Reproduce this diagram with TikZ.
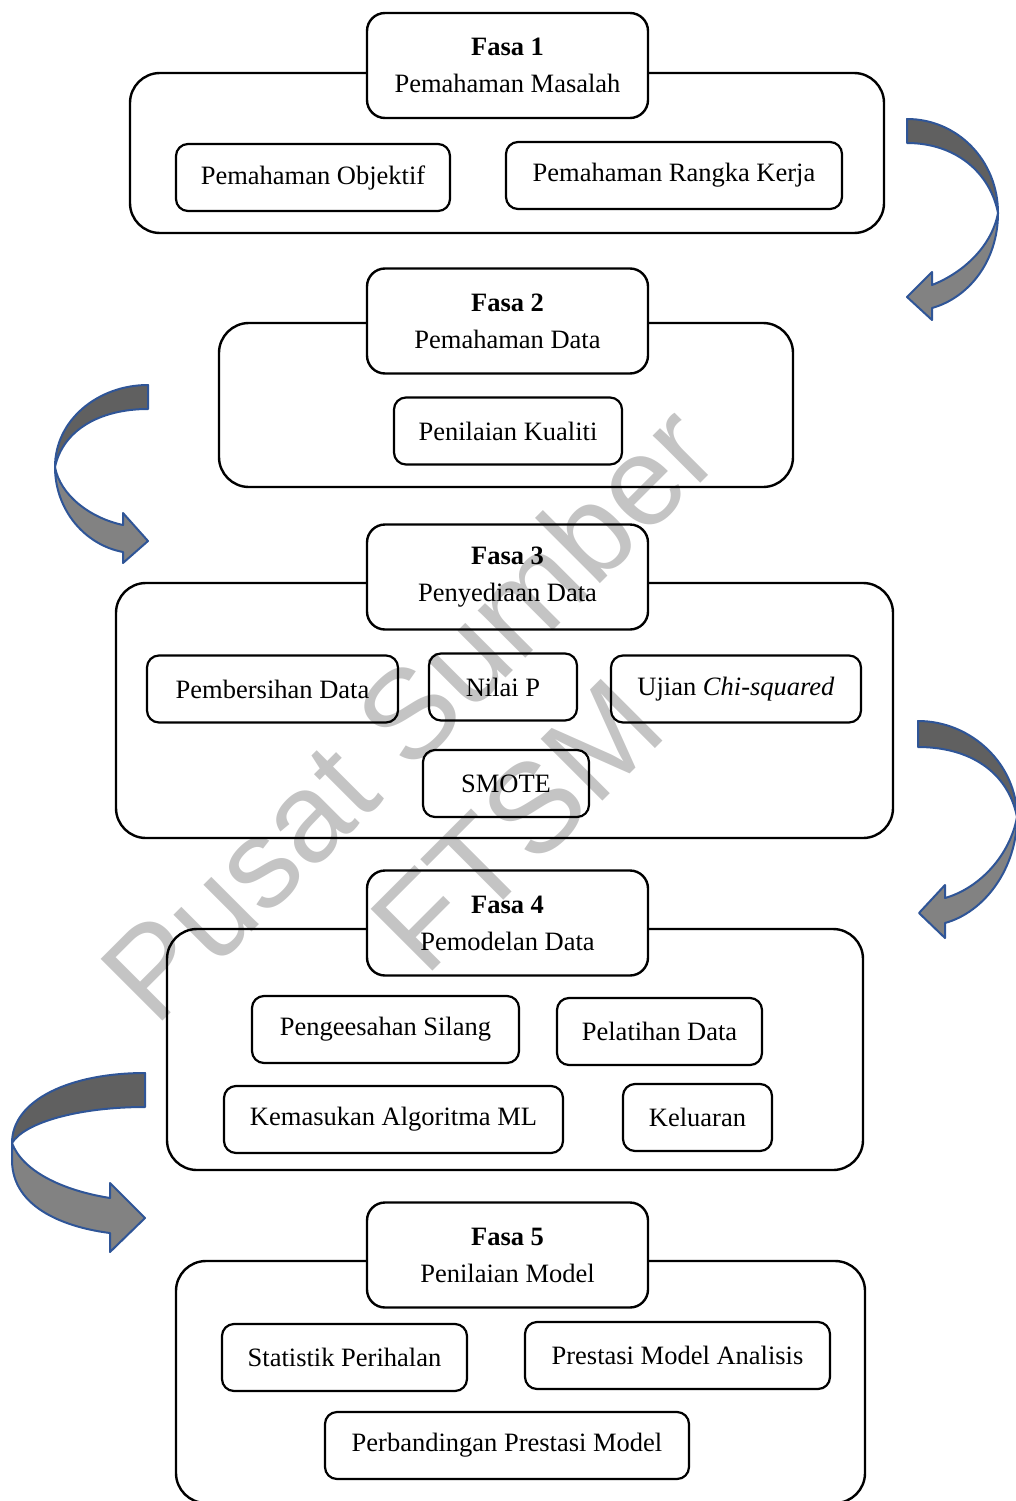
\documentclass[tikz,border=0pt]{standalone}
\usepackage{fontspec}
\setmainfont{Liberation Serif}
\newfontfamily\markfont{Liberation Sans}

\definecolor{arrowblue}{HTML}{2F5597}
\definecolor{arrowdark}{HTML}{606060}
\definecolor{arrowlight}{HTML}{828282}

\tikzset{
  outerbox/.style={draw, line width=2.4pt, rounded corners=30pt, inner sep=0pt},
  headbox/.style={draw, fill=white, line width=2.4pt, rounded corners=18pt,
    inner sep=0pt, minimum width=281pt, minimum height=105pt, align=center},
  itembox/.style={draw, line width=2.2pt, rounded corners=12pt, inner sep=0pt,
    minimum height=67pt},
  bandtop/.style={fill=arrowdark, draw=arrowblue, line width=2pt, line join=round},
  bandbot/.style={fill=arrowlight, draw=arrowblue, line width=2pt, line join=round},
  watermark/.style={font=\markfont\fontsize{127}{130}\selectfont, text=black,
    opacity=0.23, rotate=45, inner sep=0pt}
}

\begin{document}
\begin{tikzpicture}[x=1pt, y=-1pt, font=\fontsize{26.5}{37}\selectfont]
  \useasboundingbox (0,0) rectangle (1016,1501);

  % Fasa 1
  \node[outerbox, minimum width=754pt, minimum height=160pt] (box1) at (507,153) {};
  \node[headbox] (fasa1) at (507.5,65.5) {\textbf{Fasa 1}\\Pemahaman Masalah};
  \node[itembox, minimum width=274pt] (objektif) at (313,177.5) {Pemahaman Objektif};
  \node[itembox, minimum width=336pt] (rangka) at (674,175.5) {Pemahaman Rangka Kerja};

  % Fasa 2
  \node[outerbox, minimum width=574pt, minimum height=164pt] (box2) at (506,405) {};
  \node[headbox] (fasa2) at (507.5,321) {\textbf{Fasa 2}\\Pemahaman Data};
  \node[itembox, minimum width=228pt] (kualiti) at (508,431) {Penilaian Kualiti};

  % Fasa 3
  \node[outerbox, minimum width=777pt, minimum height=255pt] (box3) at (504.5,710.5) {};
  \node[headbox] (fasa3) at (507.5,577) {\textbf{Fasa 3}\\Penyediaan Data};
  \node[itembox, minimum width=251pt] (bersih) at (272.5,689) {Pembersihan Data};
  \node[itembox, minimum width=148pt] (nilaip) at (503,687) {Nilai P};
  \node[itembox, minimum width=250pt] (chi) at (736,689) {Ujian \textit{Chi-squared}};
  \node[itembox, minimum width=166pt] (smote) at (506,783.5) {SMOTE};

  % Fasa 4
  \node[outerbox, minimum width=696pt, minimum height=241pt] (box4) at (515,1049.5) {};
  \node[headbox] (fasa4) at (507.5,923) {\textbf{Fasa 4}\\Pemodelan Data};
  \node[itembox, minimum width=267pt] (silang) at (385.5,1029.5) {Pengeesahan Silang};
  \node[itembox, minimum width=205pt] (latih) at (659.5,1031.5) {Pelatihan Data};
  \node[itembox, minimum width=339pt] (algo) at (393.5,1119.5) {Kemasukan Algoritma ML};
  \node[itembox, minimum width=149pt] (keluar) at (697.5,1117.5) {Keluaran};

  % Fasa 5 (bottom edge runs off the page)
  \node[outerbox, minimum width=689pt, minimum height=242pt] (box5) at (520.5,1382) {};
  \node[headbox] (fasa5) at (507.5,1255) {\textbf{Fasa 5}\\Penilaian Model};
  \node[itembox, minimum width=245pt] (statistik) at (344.5,1357.5) {Statistik Perihalan};
  \node[itembox, minimum width=305pt] (analisis) at (677.5,1355.5) {Prestasi Model Analisis};
  \node[itembox, minimum width=364pt] (banding) at (507,1445.5) {Perbandingan Prestasi Model};

  % Curved arrow 1 -> 2 (right side)
  \path[bandbot] (998,213) .. controls (998,262) and (968,298) .. (932,308)
    -- (932,320) -- (907,297) -- (932,272) -- (932,285)
    .. controls (965,272) and (992,245) .. (998,213) -- cycle;
  \path[bandtop] (907,119) .. controls (957,119) and (998,160) .. (998,213)
    .. controls (990,172) and (955,143) .. (907,143) -- cycle;

  % Curved arrow 2 -> 3 (left side)
  \path[bandbot] (55,467) .. controls (55,510) and (85,545) .. (123,552)
    -- (123,563) -- (148,541) -- (123,513) -- (123,525)
    .. controls (90,518) and (60,495) .. (55,467) -- cycle;
  \path[bandtop] (148,385) .. controls (98,385) and (55,420) .. (55,467)
    .. controls (63,430) and (100,409) .. (148,409) -- cycle;

  % Curved arrow 3 -> 4 (right side)
  \path[bandbot] (1017,817) .. controls (1017,868) and (985,912) .. (945,923)
    -- (945,938) -- (919,913) -- (945,885) -- (945,898)
    .. controls (980,888) and (1010,855) .. (1017,817) -- cycle;
  \path[bandtop] (918,721) .. controls (972,721) and (1017,765) .. (1017,817)
    .. controls (1008,772) and (970,747) .. (918,747) -- cycle;

  % Curved arrow 4 -> 5 (left side)
  \path[bandbot] (12,1143) -- (12,1160) .. controls (12,1210) and (70,1228) .. (110,1233)
    -- (110,1252) -- (145,1218) -- (110,1183) -- (110,1198)
    .. controls (60,1190) and (22,1170) .. (12,1143) -- cycle;
  \path[bandtop] (145,1073) .. controls (70,1073) and (12,1100) .. (12,1143)
    .. controls (25,1122) and (80,1107) .. (145,1107) -- cycle;

  % Watermark
  \node[watermark] (mark1) at (408,712) {Pusat Sumber};
  \node[watermark] (mark2) at (517,825) {FTSM};
\end{tikzpicture}
\end{document}
